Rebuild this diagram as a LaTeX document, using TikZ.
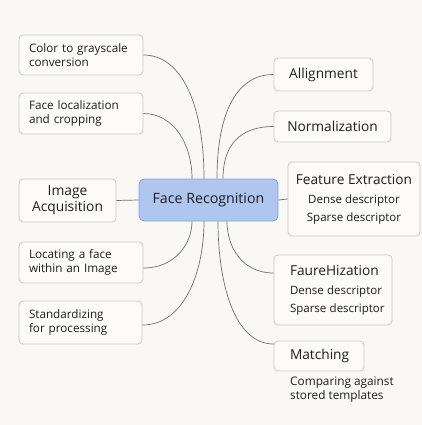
\documentclass[tikz,border=0pt]{standalone}
\usepackage{fontspec}
\setmainfont{Open Sans}
\usetikzlibrary{calc}
\definecolor{paper}{HTML}{F9F8F5}
\definecolor{boxfill}{HTML}{FCFBF9}
\definecolor{boxline}{HTML}{C9C9C7}
\definecolor{hubfill}{HTML}{AFC6EE}
\definecolor{hubline}{HTML}{82A3DA}
\definecolor{wire}{HTML}{707070}
\definecolor{ink}{HTML}{1E1E1E}
\newcommand{\bigline}{\fontsize{13.7}{15}\selectfont}
\newcommand{\smallline}{\fontsize{11.5}{13}\selectfont}
\tikzset{
  x=1pt, y=-1pt,
  card/.style={draw=boxline, fill=boxfill, line width=0.8pt, rounded corners=4pt,
    inner sep=0pt, text=ink},
  leftcard/.style={card, align=left, font=\fontsize{11.7}{14}\selectfont},
  titlecard/.style={card, align=center, font=\bigline},
  hub/.style={draw=hubline, fill=hubfill, line width=0.8pt, rounded corners=5pt,
    inner sep=0pt, text=ink, font=\fontsize{14.2}{16}\selectfont},
  link/.style={draw=wire, line width=0.7pt},
  note/.style={text=ink, align=left, inner sep=0pt, font=\fontsize{11.8}{14}\selectfont}
}
\begin{document}
\begin{tikzpicture}
\fill[paper] (0,0) rectangle (422,425);
\useasboundingbox (0,0) rectangle (422,425);

% central node
\node[hub, minimum width=139pt, minimum height=42pt] (fr) at (208.5,200) {Face Recognition};

% left branch
\node[leftcard, minimum width=124pt, minimum height=40pt, text width=104pt] (cg) at (81,55)
  {\mbox{Color to grayscale}\\\mbox{conversion}};
\node[leftcard, minimum width=124pt, minimum height=41pt, text width=104pt] (fl) at (81,113.5)
  {\mbox{Face localization}\\\mbox{and cropping}};
\node[card, align=center, font=\fontsize{13.8}{16}\selectfont, minimum width=97pt, minimum height=43pt] (ia) at (67.5,200.5)
  {Image\\Acquisition};
\node[leftcard, minimum width=124pt, minimum height=41pt, text width=104pt] (lf) at (81,262.5)
  {\mbox{Locating a face}\\\mbox{within an Image}};
\node[leftcard, minimum width=123pt, minimum height=43pt, text width=103pt] (sp) at (80.5,322.5)
  {\mbox{Standardizing}\\\mbox{for processing}};

% right branch
\node[titlecard, minimum width=99pt, minimum height=33pt] (al) at (323.5,74.5) {Allignment};
\node[titlecard, minimum width=117pt, minimum height=31pt] (no) at (332.5,126.5) {Normalization};
\node[card, align=center, minimum width=132pt, minimum height=74pt] (fe) at (354,199)
  {{\bigline Feature Extraction}\\[7pt]
   {\smallline Dense descriptor}\\[6pt]
   {\smallline Sparse descriptor}};
\node[card, align=left, minimum width=118pt, minimum height=70pt, text width=86pt] (fz) at (333,290)
  {{\bigline\mbox{FaureHization}}\\[7pt]
   {\smallline\mbox{Dense descriptor}}\\[6pt]
   {\smallline\mbox{Sparse descriptor}}};
\node[card, align=left, font=\bigline, minimum width=90pt, minimum height=30pt, text width=58pt] (ma) at (319,356)
  {\mbox{Matching}};
\node[note, anchor=west] (cmp) at (290,390) {Comparing against\\stored templates};

% connectors
\draw[link] (ia.east) -- (fr.west);
\draw[link] (fr.east) -- (fe.west);

\draw[link] (cg.east) .. controls +(40,0) and ($(fr.north)+(-4.5,-70)$) .. ($(fr.north)+(-4.5,0)$);
\draw[link] (fl.east) .. controls +(30,0) and ($(fr.north)+(-16.5,-35)$) .. ($(fr.north)+(-16.5,0)$);
\draw[link] ($(lf.east)+(0,5.5)$) .. controls +(32,0) and ($(fr.south)+(-16.5,22)$) .. ($(fr.south)+(-16.5,0)$);
\draw[link] ($(sp.east)+(0,2.5)$) .. controls +(42,0) and ($(fr.south)+(-4.5,50)$) .. ($(fr.south)+(-4.5,0)$);

\draw[link] (al.west) .. controls +(-40,0) and ($(fr.north)+(8.5,-60)$) .. ($(fr.north)+(8.5,0)$);
\draw[link] (no.west) .. controls +(-35,0) and ($(fr.north)+(14.5,-32)$) .. ($(fr.north)+(14.5,0)$);
\draw[link] ($(fz.west)+(0,-17)$) .. controls +(-32,0) and ($(fr.south)+(18.5,25)$) .. ($(fr.south)+(18.5,0)$);
\draw[link] ($(ma.west)+(0,-12)$) .. controls +(-40,0) and ($(fr.south)+(9.5,60)$) .. ($(fr.south)+(9.5,0)$);
\end{tikzpicture}
\end{document}
